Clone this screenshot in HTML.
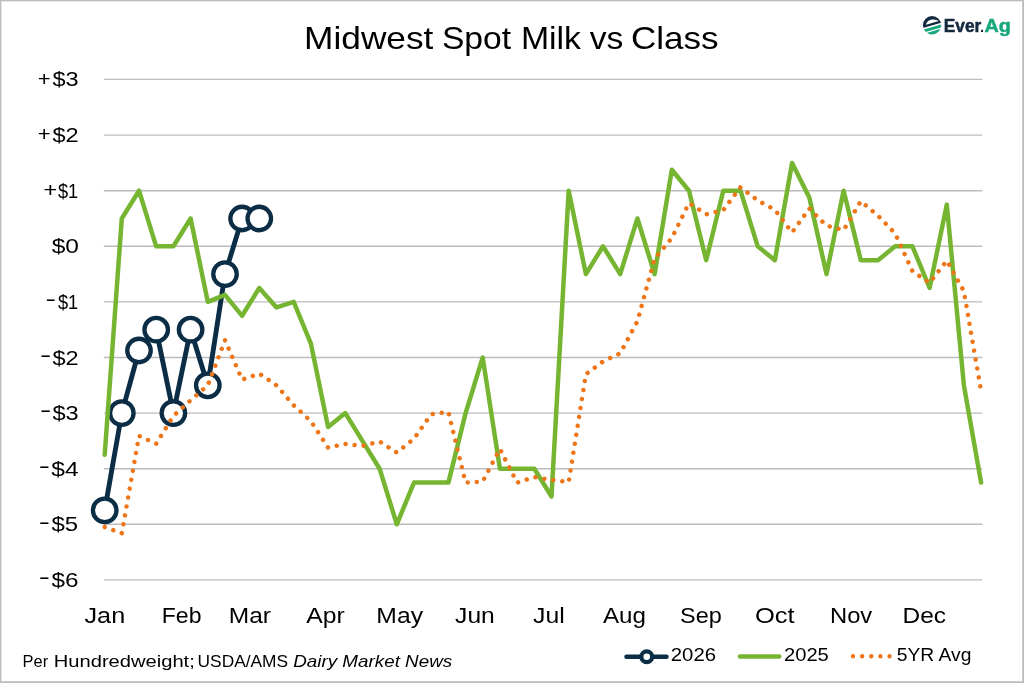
<!DOCTYPE html>
<html lang="en"><head><meta charset="utf-8"><title>Midwest Spot Milk vs Class</title>
<style>html,body{margin:0;padding:0;background:#fff}svg{display:block}text{font-family:"Liberation Sans", sans-serif;fill:#000}</style></head><body>
<svg width="1024" height="683" viewBox="0 0 1024 683">
<rect x="0" y="0" width="1024" height="683" fill="#fff"/>
<g stroke="#bcbcbc" stroke-width="1.4">
<line x1="103.8" x2="982.3" y1="79.4" y2="79.4"/>
<line x1="103.8" x2="982.3" y1="135.1" y2="135.1"/>
<line x1="103.8" x2="982.3" y1="190.7" y2="190.7"/>
<line x1="103.8" x2="982.3" y1="246.3" y2="246.3"/>
<line x1="103.8" x2="982.3" y1="301.9" y2="301.9"/>
<line x1="103.8" x2="982.3" y1="357.5" y2="357.5"/>
<line x1="103.8" x2="982.3" y1="413.1" y2="413.1"/>
<line x1="103.8" x2="982.3" y1="468.7" y2="468.7"/>
<line x1="103.8" x2="982.3" y1="524.3" y2="524.3"/>
<line x1="103.8" x2="982.3" y1="579.9" y2="579.9"/>
</g>
<g font-size="31.4">
<text x="304.1" y="49.3" textLength="129.3" lengthAdjust="spacingAndGlyphs">Midwest</text>
<text x="441.9" y="49.3" textLength="69.1" lengthAdjust="spacingAndGlyphs">Spot</text>
<text x="520.9" y="49.3" textLength="60.1" lengthAdjust="spacingAndGlyphs">Milk</text>
<text x="589.7" y="49.3" textLength="33.6" lengthAdjust="spacingAndGlyphs">vs</text>
<text x="630.9" y="49.3" textLength="87.6" lengthAdjust="spacingAndGlyphs">Class</text>
</g>
<g font-size="21">
<text x="37.8" y="85.6" textLength="12.9" lengthAdjust="spacingAndGlyphs">+</text>
<text x="52.5" y="86.4" textLength="26.2" lengthAdjust="spacingAndGlyphs">$3</text>
<text x="37.8" y="141.2" textLength="12.9" lengthAdjust="spacingAndGlyphs">+</text>
<text x="52.5" y="142.1" textLength="26.2" lengthAdjust="spacingAndGlyphs">$2</text>
<text x="43.4" y="196.9" textLength="13.7" lengthAdjust="spacingAndGlyphs">+</text>
<text x="58.0" y="197.7" textLength="20.2" lengthAdjust="spacingAndGlyphs">$1</text>
<text x="51.7" y="253.3" textLength="27.3" lengthAdjust="spacingAndGlyphs">$0</text>
<text x="45.4" y="306.2" textLength="10.5" lengthAdjust="spacingAndGlyphs">-</text>
<text x="58.0" y="308.9" textLength="20.2" lengthAdjust="spacingAndGlyphs">$1</text>
<text x="39.9" y="361.8" textLength="11.2" lengthAdjust="spacingAndGlyphs">-</text>
<text x="52.5" y="364.5" textLength="26.2" lengthAdjust="spacingAndGlyphs">$2</text>
<text x="39.9" y="417.4" textLength="11.2" lengthAdjust="spacingAndGlyphs">-</text>
<text x="52.5" y="420.1" textLength="26.2" lengthAdjust="spacingAndGlyphs">$3</text>
<text x="38.7" y="473.0" textLength="11.2" lengthAdjust="spacingAndGlyphs">-</text>
<text x="51.3" y="475.7" textLength="27.4" lengthAdjust="spacingAndGlyphs">$4</text>
<text x="38.7" y="528.6" textLength="11.2" lengthAdjust="spacingAndGlyphs">-</text>
<text x="51.5" y="531.3" textLength="26.7" lengthAdjust="spacingAndGlyphs">$5</text>
<text x="38.7" y="584.2" textLength="11.2" lengthAdjust="spacingAndGlyphs">-</text>
<text x="51.5" y="586.9" textLength="27.0" lengthAdjust="spacingAndGlyphs">$6</text>
</g>
<g font-size="21.5">
<text x="84.5" y="622.6" textLength="40.7" lengthAdjust="spacingAndGlyphs">Jan</text>
<text x="161.8" y="622.6" textLength="39.7" lengthAdjust="spacingAndGlyphs">Feb</text>
<text x="228.8" y="622.6" textLength="42.2" lengthAdjust="spacingAndGlyphs">Mar</text>
<text x="306.3" y="622.6" textLength="38.45" lengthAdjust="spacingAndGlyphs">Apr</text>
<text x="376.3" y="622.6" textLength="46.7" lengthAdjust="spacingAndGlyphs">May</text>
<text x="455.1" y="622.6" textLength="39.7" lengthAdjust="spacingAndGlyphs">Jun</text>
<text x="533.0" y="622.6" textLength="31.7" lengthAdjust="spacingAndGlyphs">Jul</text>
<text x="603.0" y="622.6" textLength="42.95" lengthAdjust="spacingAndGlyphs">Aug</text>
<text x="680.0" y="622.6" textLength="41.7" lengthAdjust="spacingAndGlyphs">Sep</text>
<text x="755.0" y="622.6" textLength="39.7" lengthAdjust="spacingAndGlyphs">Oct</text>
<text x="830.0" y="622.6" textLength="42.2" lengthAdjust="spacingAndGlyphs">Nov</text>
<text x="902.6" y="622.6" textLength="43.45" lengthAdjust="spacingAndGlyphs">Dec</text>
</g>
<polyline points="104.7,510.4 121.8,413.1 139.0,350.5 156.2,329.7 173.4,413.1 190.6,329.7 207.8,385.3 225.0,274.1 242.1,218.5 259.3,218.5" fill="none" stroke="#0b2e46" stroke-width="4.9" stroke-linejoin="round" stroke-linecap="round"/>
<g fill="#fff" stroke="#0b2e46" stroke-width="4.3">
<circle cx="104.7" cy="510.4" r="11.75"/>
<circle cx="121.8" cy="413.1" r="11.75"/>
<circle cx="139.0" cy="350.5" r="11.75"/>
<circle cx="156.2" cy="329.7" r="11.75"/>
<circle cx="173.4" cy="413.1" r="11.75"/>
<circle cx="190.6" cy="329.7" r="11.75"/>
<circle cx="207.8" cy="385.3" r="11.75"/>
<circle cx="225.0" cy="274.1" r="11.75"/>
<circle cx="242.1" cy="218.5" r="11.75"/>
<circle cx="259.3" cy="218.5" r="11.75"/>
</g>
<polyline points="104.7,454.8 121.8,218.5 139.0,190.7 156.2,246.3 173.4,246.3 190.6,218.5 207.8,301.9 225.0,294.9 242.1,315.8 259.3,288.0 276.5,307.4 293.7,301.9 310.9,343.6 328.1,427.0 345.3,413.1 362.4,440.9 379.6,468.7 396.8,524.3 414.0,482.6 431.2,482.6 448.4,482.6 465.6,413.1 482.7,357.5 499.9,468.7 517.1,468.7 534.3,468.7 551.5,496.5 568.7,190.7 585.9,274.1 603.0,246.3 620.2,274.1 637.4,218.5 654.6,274.1 671.8,169.8 689.0,190.7 706.2,260.2 723.3,190.7 740.5,190.7 757.7,246.3 774.9,260.2 792.1,162.9 809.3,197.6 826.5,274.1 843.6,190.7 860.8,260.2 878.0,260.2 895.2,246.3 912.4,246.3 929.6,288.0 946.8,204.6 963.9,385.3 981.1,482.6" fill="none" stroke="#76b531" stroke-width="4.5" stroke-linejoin="round" stroke-linecap="round"/>
<polyline points="104.7,527.1 121.8,533.2 139.0,435.9 156.2,443.7 173.4,415.9 190.6,400.3 207.8,385.3 225.0,340.3 242.1,379.7 259.3,373.6 276.5,385.3 293.7,405.3 310.9,421.2 328.1,447.6 345.3,444.0 362.4,445.9 379.6,441.5 396.8,452.6 414.0,438.7 431.2,414.2 448.4,412.0 465.6,482.6 482.7,481.5 499.9,449.0 517.1,482.6 534.3,477.1 551.5,479.8 568.7,482.1 585.9,374.2 603.0,361.4 620.2,353.3 637.4,321.3 654.6,258.8 671.8,238.1 689.0,203.1 706.2,214.3 723.3,210.1 740.5,187.3 757.7,200.4 774.9,209.8 792.1,232.4 809.3,208.6 826.5,225.7 843.6,230.1 860.8,201.2 878.0,215.7 895.2,233.6 912.4,271.1 929.6,282.9 946.8,260.6 963.9,291.3 981.1,390.9" fill="none" stroke="#ec7619" stroke-width="4.5" stroke-linejoin="round" stroke-linecap="round" stroke-dasharray="0.01 9.05"/>
<text x="22.6" y="666.8" font-size="16.4" textLength="25.6" lengthAdjust="spacingAndGlyphs">Per</text>
<text x="53.8" y="666.8" font-size="16.4" textLength="141" lengthAdjust="spacingAndGlyphs">Hundredweight;</text>
<text x="197.6" y="666.8" font-size="16.4" textLength="90.5" lengthAdjust="spacingAndGlyphs">USDA/AMS</text>
<text x="293.2" y="666.8" font-size="16.4" font-style="italic" textLength="159" lengthAdjust="spacingAndGlyphs">Dairy Market News</text>
<line x1="626.5" x2="666.5" y1="656.7" y2="656.7" stroke="#0b2e46" stroke-width="4.5" stroke-linecap="round"/>
<circle cx="646.75" cy="656.7" r="5.4" fill="#fff" stroke="#0b2e46" stroke-width="4.2"/>
<text x="670.8" y="661.3" font-size="17.5" textLength="45.2" lengthAdjust="spacingAndGlyphs">2026</text>
<line x1="740" x2="779.2" y1="656.4" y2="656.4" stroke="#76b531" stroke-width="4.5" stroke-linecap="round"/>
<text x="784" y="661.3" font-size="17.5" textLength="44.8" lengthAdjust="spacingAndGlyphs">2025</text>
<line x1="853" x2="890" y1="656.3" y2="656.3" stroke="#ec7619" stroke-width="4.4" stroke-linecap="round" stroke-dasharray="0.01 9.12"/>
<text x="896.8" y="661.3" font-size="17.5" textLength="74.6" lengthAdjust="spacingAndGlyphs">5YR Avg</text>
<g id="logo">
<clipPath id="lc"><circle cx="932.05" cy="25.25" r="9.15"/></clipPath>
<g clip-path="url(#lc)"><g transform="rotate(-16 932.05 25.25)">
<rect x="920" y="13" width="24" height="12.45" fill="#14293f"/>
<rect x="920" y="26.95" width="24" height="3.05" fill="#19a77d"/>
<rect x="920" y="31.15" width="24" height="5" fill="#19a77d"/>
</g>
<path d="M926.1 24.7C926.5 21.2 930.5 19.3 933.2 19.45C935.5 19.6 937.9 20.3 938.7 21.1Z" fill="#fff"/>
</g>
<text x="943.7" y="31.6" font-size="18.4" font-weight="bold" style="fill:#14293f;stroke:#14293f;stroke-width:0.5" textLength="37.6" lengthAdjust="spacingAndGlyphs">Ever</text>
<text x="980.1" y="31.6" font-size="14.5" font-weight="bold" style="fill:#14293f">.</text>
<text x="984.4" y="31.6" font-size="18.4" font-weight="bold" style="fill:#19a77d;stroke:#19a77d;stroke-width:0.5" textLength="26.4" lengthAdjust="spacingAndGlyphs">Ag</text>
</g>
<g fill="#bdbdbd"><rect x="0" y="0" width="1024" height="1.4"/><rect x="0" y="0" width="1.4" height="683"/><rect x="1022.2" y="0" width="1.8" height="683"/><rect x="0" y="681.2" width="1024" height="1.8"/></g>
</svg></body></html>
